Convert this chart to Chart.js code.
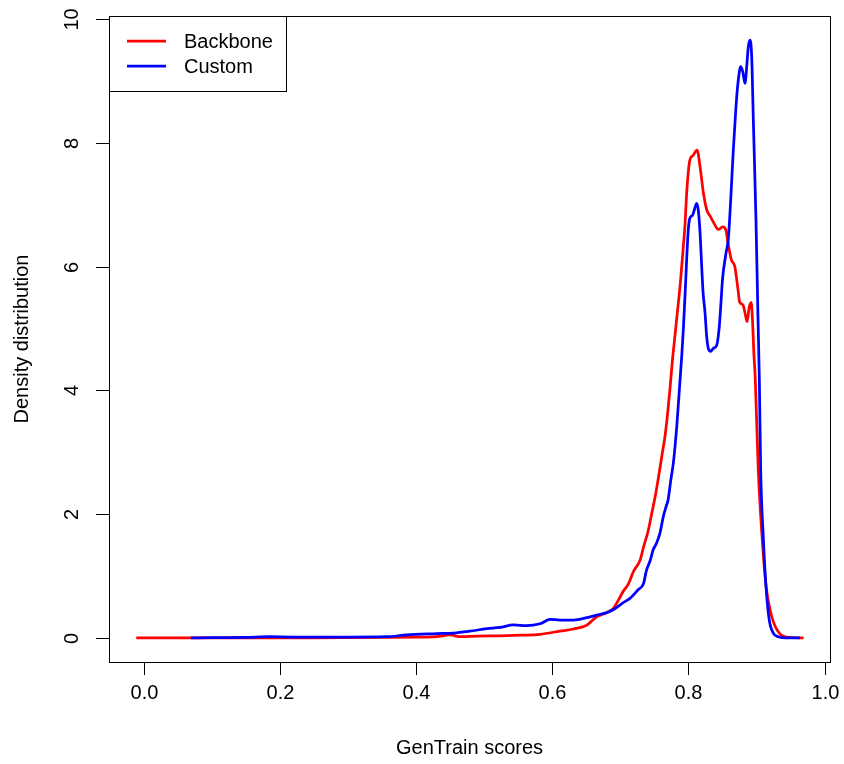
<!DOCTYPE html>
<html>
<head>
<meta charset="utf-8">
<script src="https://cdn.jsdelivr.net/npm/chart.js@4"></script>
<style>
html,body{margin:0;padding:0;background:#fff;}
#wrap{width:844px;height:764px;}
</style>
</head>
<body>
<div id="wrap"><canvas id="c" width="844" height="764"></canvas></div>
<script>
const xTicks = [0.0, 0.2, 0.4, 0.6, 0.8, 1.0];
const xTickLabels = ["0.0", "0.2", "0.4", "0.6", "0.8", "1.0"];
const yTicks = [0, 2, 4, 6, 8, 10];
const yTickLabels = ["0", "2", "4", "6", "8", "10"];
const seriesNames = ["Backbone", "Custom"];
const xTitle = "GenTrain scores";
const yTitle = "Density distribution";

const backboneX = [-0.011,0.05,0.10,0.15,0.20,0.25,0.30,0.35,0.40,0.43,0.45,0.465,0.49,0.523,0.553,0.582,0.611,0.631,0.651,0.665,0.680,0.690,0.697,0.704,0.712,0.719,0.729,0.734,0.741,0.746,0.751,0.756,0.761,0.766,0.770,0.773,0.776,0.780,0.784,0.788,0.792,0.795,0.797,0.800,0.802,0.807,0.8125,0.817,0.822,0.827,0.832,0.836,0.844,0.850,0.855,0.858,0.863,0.868,0.873,0.875,0.880,0.883,0.886,0.889,0.892,0.894,0.896,0.898,0.9025,0.908,0.914,0.921,0.930,0.942,0.969];
const backboneY = [0,0,0,0.001,0.003,0.003,0.005,0.008,0.012,0.02,0.05,0.02,0.03,0.035,0.045,0.06,0.11,0.145,0.21,0.34,0.41,0.48,0.61,0.75,0.88,1.07,1.26,1.47,1.74,2.01,2.28,2.6,2.95,3.3,3.7,4.05,4.44,4.87,5.30,5.73,6.27,6.70,7.13,7.56,7.72,7.80,7.88,7.61,7.18,6.91,6.81,6.73,6.60,6.64,6.59,6.38,6.11,6.0,5.6,5.43,5.38,5.25,5.11,5.33,5.42,5.14,4.60,4.2,2.71,1.64,0.83,0.40,0.13,0.02,0];

const customX = [0.069,0.10,0.15,0.185,0.22,0.26,0.30,0.357,0.386,0.430,0.455,0.479,0.504,0.523,0.543,0.562,0.582,0.597,0.611,0.631,0.651,0.665,0.680,0.690,0.704,0.714,0.726,0.734,0.738,0.744,0.748,0.753,0.758,0.763,0.767,0.770,0.774,0.778,0.783,0.7865,0.790,0.7924,0.795,0.7974,0.7997,0.802,0.806,0.8095,0.812,0.8144,0.817,0.8194,0.8213,0.8243,0.8267,0.8291,0.8326,0.8364,0.8414,0.8448,0.8473,0.850,0.8551,0.8584,0.862,0.8658,0.8697,0.8731,0.8767,0.8796,0.883,0.8855,0.8878,0.8903,0.8928,0.8952,0.8991,0.902,0.904,0.906,0.9098,0.9138,0.9186,0.9245,0.9319,0.943,0.9637];
const customY = [0,0.005,0.01,0.02,0.015,0.015,0.015,0.02,0.05,0.07,0.08,0.11,0.15,0.17,0.21,0.20,0.23,0.30,0.29,0.29,0.33,0.37,0.41,0.46,0.57,0.64,0.78,0.88,1.08,1.26,1.42,1.53,1.69,1.96,2.12,2.23,2.55,2.85,3.45,4.0,4.54,4.98,5.55,6.14,6.6,6.78,6.83,6.95,7.02,6.91,6.54,6.0,5.6,5.25,4.87,4.68,4.63,4.68,4.73,4.98,5.35,5.8,6.22,6.43,7.08,7.88,8.58,9.01,9.23,9.15,8.96,9.23,9.55,9.66,9.39,8.37,6.75,5.2,4.2,2.71,1.64,0.83,0.29,0.08,0.02,0,0];

const toPts = (xs, ys) => xs.map((x, i) => ({x: x, y: ys[i]}));

const FONT = '20px "Liberation Sans", Arial, Helvetica, sans-serif';

const rAxes = {
  id: 'rAxes',
  afterDraw(chart) {
    const ctx = chart.ctx;
    const a = chart.chartArea;
    const xs = chart.scales.x, ys = chart.scales.y;
    ctx.save();
    ctx.strokeStyle = '#000';
    ctx.lineWidth = 1;
    ctx.strokeRect(Math.round(a.left) + 0.5, Math.round(a.top) + 0.5, Math.round(a.right - a.left), Math.round(a.bottom - a.top));
    ctx.fillStyle = '#000';
    ctx.font = FONT;
    ctx.textAlign = 'center';
    ctx.textBaseline = 'middle';
    xTicks.forEach((t, i) => {
      const px = Math.round(xs.getPixelForValue(t)) + 0.5;
      ctx.beginPath();
      ctx.moveTo(px, a.bottom);
      ctx.lineTo(px, a.bottom + 13);
      ctx.stroke();
      ctx.fillText(xTickLabels[i], px, a.bottom + 31);
    });
    yTicks.forEach((t, i) => {
      const py = Math.round(ys.getPixelForValue(t)) + 0.5;
      ctx.beginPath();
      ctx.moveTo(a.left, py);
      ctx.lineTo(a.left - 13, py);
      ctx.stroke();
      ctx.save();
      ctx.translate(a.left - 37, py);
      ctx.rotate(-Math.PI / 2);
      ctx.fillText(yTickLabels[i], 0, 0);
      ctx.restore();
    });
    ctx.fillText(xTitle, (a.left + a.right) / 2, 748);
    ctx.save();
    ctx.translate(22, (a.top + a.bottom) / 2);
    ctx.rotate(-Math.PI / 2);
    ctx.fillText(yTitle, 0, 0);
    ctx.restore();
    const lx = a.left, ly = a.top;
    ctx.fillStyle = '#fff';
    ctx.fillRect(lx + 0.5, ly + 0.5, 177, 75);
    ctx.strokeRect(Math.round(lx) + 0.5, Math.round(ly) + 0.5, 177, 75);
    const rowsY = [41, 66];
    ctx.textAlign = 'left';
    ctx.fillStyle = '#000';
    [0, 1].forEach(k => {
      const ds = chart.data.datasets.find(d => d.label === seriesNames[k]);
      ctx.strokeStyle = ds.borderColor;
      ctx.lineWidth = 2.75;
      ctx.beginPath();
      ctx.moveTo(127, rowsY[k]);
      ctx.lineTo(166, rowsY[k]);
      ctx.stroke();
      ctx.fillText(seriesNames[k], 184, rowsY[k] + 1);
    });
    ctx.restore();
  }
};

new Chart(document.getElementById('c'), {
  type: 'line',
  data: {
    datasets: [
      {label: seriesNames[0], data: toPts(backboneX, backboneY), borderColor: '#FF0000', borderWidth: 2.75, pointRadius: 0, fill: false, cubicInterpolationMode: 'monotone', order: 2},
      {label: seriesNames[1], data: toPts(customX, customY), borderColor: '#0000FF', borderWidth: 2.75, pointRadius: 0, fill: false, cubicInterpolationMode: 'monotone', order: 1}
    ]
  },
  options: {
    responsive: false,
    animation: false,
    parsing: false,
    layout: {padding: {left: 109, right: 14, top: 16, bottom: 102}},
    plugins: {legend: {display: false}, tooltip: {enabled: false}},
    scales: {
      x: {type: 'linear', min: -0.051, max: 1.0078, display: false},
      y: {type: 'linear', min: -0.388, max: 10.048, display: false}
    }
  },
  plugins: [rAxes]
});
</script>
</body>
</html>
